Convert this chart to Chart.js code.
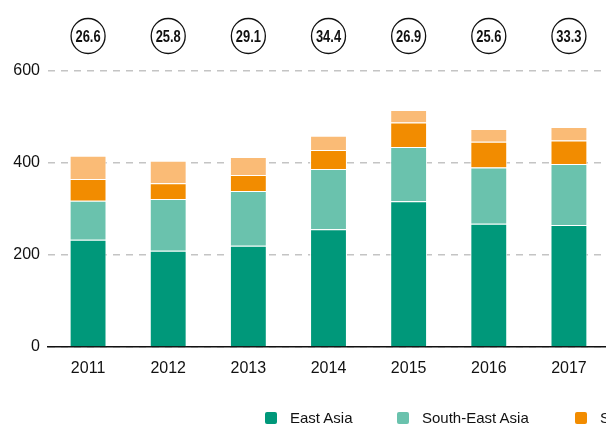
<!DOCTYPE html>
<html>
<head>
<meta charset="utf-8">
<script src="https://cdn.jsdelivr.net/npm/chart.js@4/dist/chart.umd.min.js"></script>
<style>
  html, body { margin: 0; padding: 0; background: #fff; width: 606px; height: 424px; overflow: hidden; }
  #wrap { position: relative; width: 610px; height: 424px; }
  #legend { position: absolute; top: 409px; left: 0; width: 900px; height: 20px;
            font-family: "Liberation Sans", Arial, sans-serif; font-size: 15px; color: #111; }
  .item { position: absolute; top: 0; display: flex; align-items: center; white-space: nowrap; }
  .box { width: 12px; height: 12px; border-radius: 2px; margin-right: 13px; }
</style>
</head>
<body>
<div id="wrap">
  <canvas id="c" width="610" height="424"></canvas>
  <div id="legend"></div>
</div>
<script>
const years = ["2011", "2012", "2013", "2014", "2015", "2016", "2017"];
const eastAsia = [233, 209, 220, 256, 317, 268, 265];
const southEastAsia = [85, 113, 119, 131, 118, 122, 133];
const southAsia = [47, 34, 35, 41, 53, 56, 51];
const otherAsia = [51, 49, 39, 31, 27, 28, 29];
const circleValues = ["26.6", "25.8", "29.1", "34.4", "26.9", "25.6", "33.3"];
const seriesNames = ["East Asia", "South-East Asia", "South Asia", "Other Asia"];
const yTicks = [0, 200, 400, 600];

const colors = ["#00987A", "#6AC2AD", "#F28C00", "#FABB76"];
const FONT = '"Liberation Sans", Arial, sans-serif';

const circlesPlugin = {
  id: 'circles',
  afterDraw(chart) {
    const ctx = chart.ctx;
    const xs = chart.scales.x;
    ctx.save();
    circleValues.forEach((v, i) => {
      const x = xs.getPixelForValue(i);
      const y = 36;
      ctx.beginPath();
      ctx.ellipse(x, y, 17, 17.5, 0, 0, Math.PI * 2);
      ctx.fillStyle = '#fff';
      ctx.fill();
      ctx.lineWidth = 1.3;
      ctx.strokeStyle = '#111';
      ctx.stroke();
      ctx.save();
      ctx.translate(x, y + 1);
      ctx.scale(0.76, 1);
      ctx.fillStyle = '#111';
      ctx.font = 'bold 17px ' + FONT;
      ctx.textAlign = 'center';
      ctx.textBaseline = 'middle';
      ctx.fillText(v, 0, 0);
      ctx.restore();
    });
    ctx.restore();
  }
};

const data = {
  labels: years,
  datasets: [eastAsia, southEastAsia, southAsia, otherAsia].map((d, i) => ({
    label: seriesNames[i],
    data: d,
    backgroundColor: colors[i],
    borderColor: '#ffffff',
    borderWidth: 1,
    barPercentage: 0.92,
    categoryPercentage: 0.5
  }))
};

new Chart(document.getElementById('c'), {
  type: 'bar',
  data,
  options: {
    responsive: false,
    animation: false,
    layout: { padding: { top: 71, right: 1, bottom: 35, left: 0 } },
    plugins: { legend: { display: false }, tooltip: { enabled: false } },
    scales: {
      x: {
        stacked: true,
        grid: { display: false },
        border: { display: true, color: '#111', width: 1.5 },
        ticks: { color: '#111', font: { family: FONT, size: 16 }, padding: 4, maxRotation: 0 },
        afterFit(s) { s.height = 42; }
      },
      y: {
        stacked: true,
        min: 0, max: 600,
        afterBuildTicks(s) { s.ticks = yTicks.map(v => ({ value: v })); },
        grid: { color: '#c4c4c4', lineWidth: 1.5, drawTicks: false },
        border: { display: false, dash: [7, 6] },
        ticks: { color: '#111', font: { family: FONT, size: 16 }, padding: 8 },
        afterFit(s) { s.width = 48; }
      }
    }
  },
  plugins: [circlesPlugin]
});

const leg = document.getElementById('legend');
const legendX = [265, 397, 575, 720];
seriesNames.forEach((n, i) => {
  const it = document.createElement('div');
  it.className = 'item';
  it.style.left = legendX[i] + 'px';
  it.innerHTML = '<span class="box" style="background:' + colors[i] + '"></span><span>' + n + '</span>';
  leg.appendChild(it);
});
</script>
</body>
</html>
